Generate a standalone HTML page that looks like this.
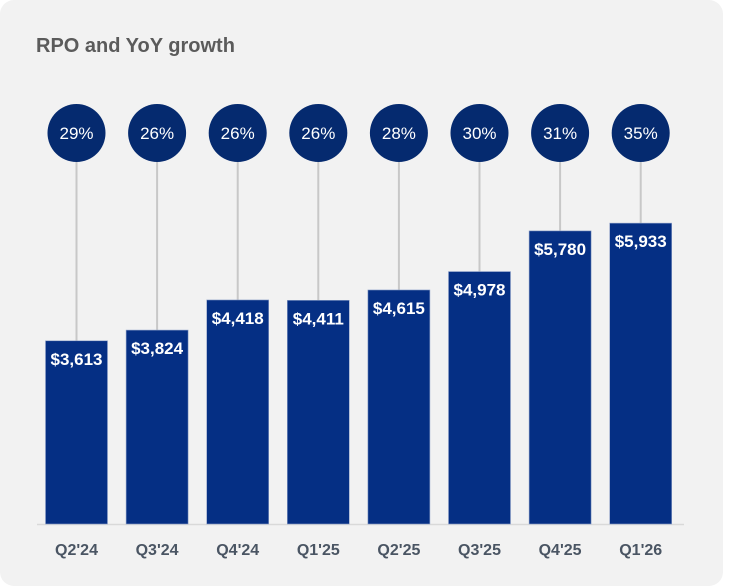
<!DOCTYPE html>
<html><head><meta charset="utf-8"><style>
body{margin:0;width:729px;height:588px;background:#fff;overflow:hidden;font-family:"Liberation Sans",sans-serif}
#card{position:absolute;left:0;top:0;width:723px;height:586px;background:#f2f2f2;border-radius:14px}
</style></head><body>
<div id="card"></div>
<svg id="chart" width="729" height="588" style="position:absolute;left:0;top:0">
<text x="36" y="52" font-size="20" font-weight="bold" fill="#5b5b5b">RPO and YoY growth</text>
</svg>
<script>
const categories=["Q2'24","Q3'24","Q4'24","Q1'25","Q2'25","Q3'25","Q4'25","Q1'26"];
const rpoValues=[3613,3824,4418,4411,4615,4978,5780,5933];
const growthValues=[29,26,26,26,28,30,31,35];
const svg=document.getElementById('chart');
const NS='http://www.w3.org/2000/svg';
const baseY=524, pxPerUnit=1/19.72, x0=76.5, pitch=80.6, bw=62;
const xScale=i=>x0+i*pitch;
const yScale=v=>baseY-v*pxPerUnit;
function mk(t,a){const e=document.createElementNS(NS,t);for(const k in a)e.setAttribute(k,a[k]);svg.appendChild(e);return e;}
const ax=mk('line',{x1:37,x2:684,y1:baseY+0.5,y2:baseY+0.5,stroke:'#d9d9d9','stroke-width':1.5});


categories.forEach((c,i)=>{
  const cx=xScale(i), top=yScale(rpoValues[i]);
  const stem=mk('line',{x1:cx,x2:cx,y1:162,y2:top,stroke:'#c8c8c8','stroke-width':2});
  
  
  const bar=mk('rect',{x:cx-bw/2,y:top,width:bw,height:baseY-top,fill:'#052f84',stroke:'#8ea0c8','stroke-width':0.6});
  
  
  const vl=mk('text',{x:cx,y:top+24,'text-anchor':'middle','font-size':17,'font-weight':'bold',fill:'#fff'});
  vl.textContent='$'+rpoValues[i].toLocaleString('en-US');
  
  
  const circ=mk('circle',{cx:cx,cy:133,r:29,fill:'#052a6f'});
  
  
  const gl=mk('text',{x:cx,y:139,'text-anchor':'middle','font-size':17,fill:'#fff'});
  gl.textContent=growthValues[i]+'%';
  
  
  const xl=mk('text',{x:cx,y:555,'text-anchor':'middle','font-size':16,'font-weight':'bold',fill:'#4a5563'});
  xl.textContent=c;
  
  
});
</script>
</body></html>
